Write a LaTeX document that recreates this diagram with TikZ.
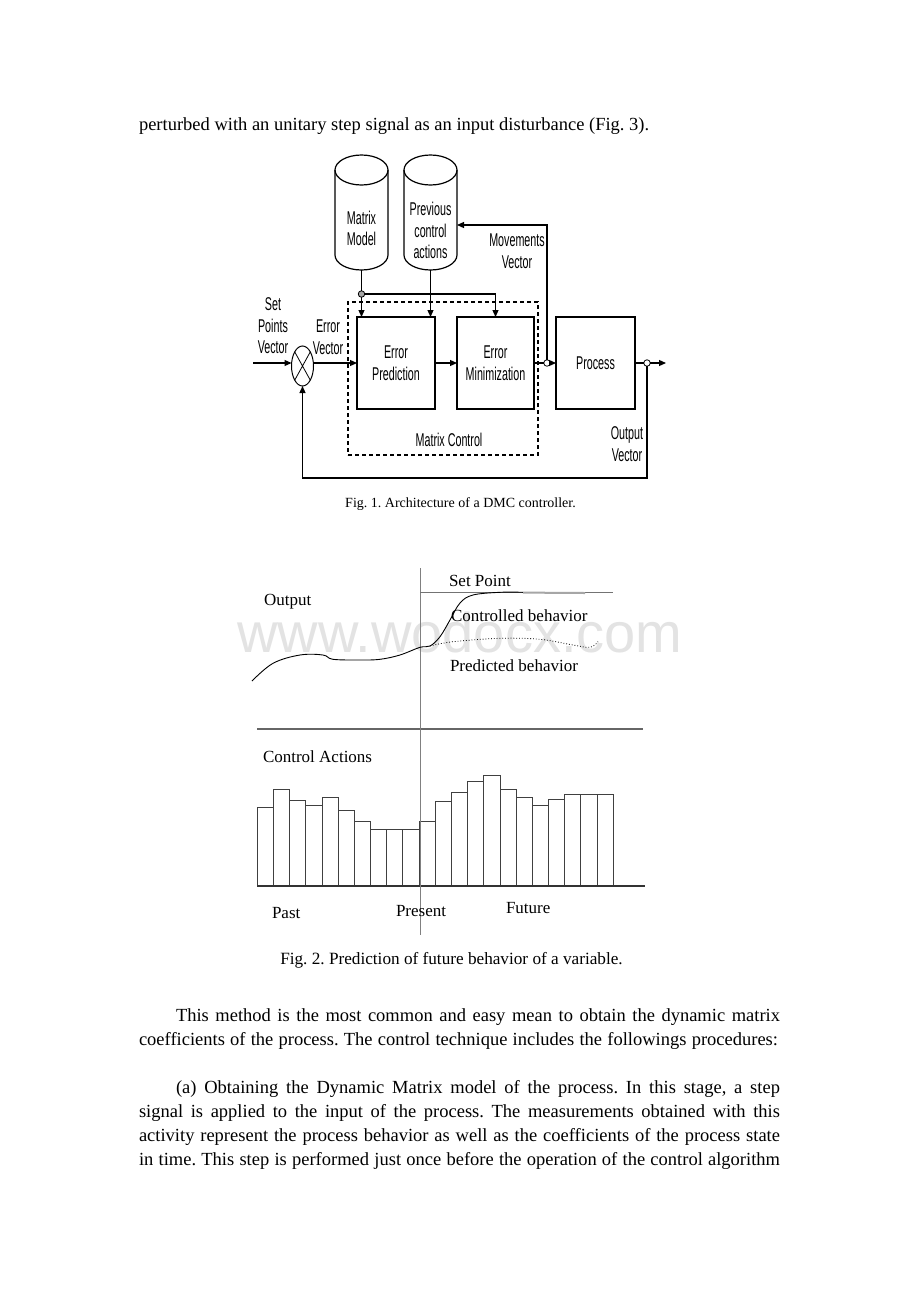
\documentclass[tikz,border=0pt]{standalone}
\usepackage{fontspec}
\setmainfont{Liberation Serif}
\newfontfamily\narrowsans[FakeStretch=0.58]{Liberation Sans}
\newfontfamily\wmsans{Liberation Sans}
\usetikzlibrary{arrows.meta,shapes.geometric}
\begin{document}
\begin{tikzpicture}[x=1pt,y=-1pt,
  every node/.style={inner sep=0pt, outer sep=0pt},
  blk/.style={draw, line width=1.2pt, minimum height=92pt},
  lab/.style={font=\narrowsans\fontsize{18.5}{21.5}\selectfont, align=center},
  wire/.style={line width=1.2pt},
  arr/.style={wire, -{Triangle[length=7pt,width=6pt]}},
  junc/.style={circle, draw, line width=0.8pt, minimum size=6.5pt},
  figlab/.style={font=\fontsize{17}{20}\selectfont, anchor=base west},
  body/.style={font=\fontsize{18.5}{24}\selectfont\frenchspacing, anchor=base west},
  bar/.style={draw=black!75, line width=1pt},
]
\useasboundingbox (0,0) rectangle (920,1302);
\fill[white] (0,0) rectangle (920,1302);

% ---------- body text ----------
\node[body] (t0) at (139,130) {perturbed with an unitary step signal as an input disturbance (Fig. 3).};
\node[body] (p1) at (176,1021) {\makebox[604pt][s]{This method is the most common and easy mean to obtain the dynamic matrix}};
\node[body] (p2) at (139,1045) {\makebox[639pt][s]{coefficients of the process. The control technique includes the followings procedures:}};
\node[body] (p3) at (176,1093) {\makebox[604pt][s]{(a) Obtaining the Dynamic Matrix model of the process. In this stage, a step}};
\node[body] (p4) at (139,1117) {\makebox[641pt][s]{signal is applied to the input of the process. The measurements obtained with this}};
\node[body] (p5) at (139,1141) {\makebox[641pt][s]{activity represent the process behavior as well as the coefficients of the process state}};
\node[body] (p6) at (139,1165) {\makebox[641pt][s]{in time. This step is performed just once before the operation of the control algorithm}};

% ---------- Fig. 1 ----------
\node[blk, lab, minimum width=78pt] (ep) at (396,363) {Error\\Prediction};
\node[blk, lab, minimum width=77pt] (em) at (495.5,363) {Error\\Minimization};
\node[blk, lab, minimum width=79pt] (pr) at (595.5,363) {Process};
\node[draw, line width=1.2pt, dash pattern=on 4pt off 3pt, minimum width=190pt, minimum height=153pt] (mc) at (443,378.5) {};
\node[lab] (mcl) at (449,440) {Matrix Control};

\node[ellipse, draw, line width=1pt, minimum width=22pt, minimum height=40pt] (sum) at (302.5,366) {};
\draw[line width=0.8pt] (sum.north west) -- (sum.south east) (sum.north east) -- (sum.south west);

% cylinders
\node[minimum width=53pt, minimum height=115pt] (mm) at (361.5,212.5) {};
\node[minimum width=53pt, minimum height=115pt] (pca) at (430.5,212.5) {};
\foreach \c in {mm,pca}{
  \draw[wire, fill=white] ([yshift=-15pt]\c.north west) -- ([yshift=15pt]\c.south west)
     arc[start angle=180, end angle=360, x radius=26.5pt, y radius=15pt]
     -- ([yshift=-15pt]\c.north east);
  \draw[wire] ([yshift=-15pt]\c.north) ellipse[x radius=26.5pt, y radius=15pt];
}
\node[lab] (mml) at (361.5,228.5) {Matrix\\Model};
\node[lab] (pcal) at (430.5,230.5) {Previous\\control\\actions};

% junctions
\node[junc, fill=gray!70] (j1) at (361.5,294) {};
\node[junc, fill=white] (j2) at (547,363) {};
\node[junc, fill=white] (j3) at (647,363) {};
\coordinate (in) at (253,363);
\coordinate (out) at (666,363);
\coordinate (fbR) at (647,478);
\coordinate (mvc) at (547,225);

% connectors
\draw[arr] (in) -- (sum.west |- in);
\draw[arr] (sum.east |- in) -- (ep.west);
\draw[arr] (ep.east) -- (em.west);
\draw[wire] (em.east) -- (j2);
\draw[arr] (j2) -- (pr.west);
\draw[wire] (pr.east) -- (j3);
\draw[arr] (j3) -- (out);
\draw[arr] (j3) -- (fbR) -| (sum.south);
\draw[arr] (j2) -- (mvc) -- (mvc -| pca.east);
\draw[wire] (mm.south) -- (j1);
\draw[arr] (j1) -- (j1 |- ep.north);
\draw[arr] (j1) -| (em.north);
\draw[arr] (pca.south) -- (pca.south |- ep.north);

% labels
\node[lab] (spv) at (273,326) {Set\\Points\\Vector};
\node[lab] (evl) at (328,337) {Error\\Vector};
\node[lab] (mvl) at (517,251) {Movements\\Vector};
\node[lab] (ovl) at (627,444) {Output\\Vector};

\node[font=\fontsize{14}{16}\selectfont\frenchspacing, anchor=base] (cap1) at (460.5,507) {Fig. 1. Architecture of a DMC controller.};

% ---------- Fig. 2 ----------
\node[font=\wmsans\fontsize{56}{60}\selectfont, text=gray!22, anchor=base] (wm) at (460,652) {www.wodocx.com};

\coordinate (vt) at (420,568);
\coordinate (vb) at (420,935);
\coordinate (spa) at (420,592);
\coordinate (spb) at (613,592);
\coordinate (sepa) at (257,729);
\coordinate (sepb) at (643,729);
\coordinate (bla) at (257,886);
\coordinate (blb) at (645,886);

\foreach \h [count=\i] in {807,789,800,805,797,810,821,829,829,829,821,801,792,781,775,789,797,805,799,794,794,794}{
  \draw[bar] ({257.3+(\i-1)*16.18},886) rectangle ({257.3+\i*16.18},\h);
}
\draw[black!80, line width=1.2pt] (bla) -- (blb);
\draw[black!60, line width=1.2pt] (sepa) -- (sepb);
\draw[gray, line width=1pt] (vt) -- (vb);
\draw[gray!90!black, line width=1pt] (spa) -- (spb);

\draw[line width=0.9pt] plot[smooth, tension=0.6] coordinates {(252,681) (273,663.3) (300,655) (323,655) (333,659.3) (360,660) (380,659.3) (400,655) (420,647.3) (430,646) (440,636.7) (450,620) (460,603) (473,595) (500,592.3) (523,592.3)};
\draw[gray!70, line width=2pt] (523,592.6) -- (585,593);
\draw[dotted, line width=0.8pt] plot[smooth, tension=0.6] coordinates {(430,646) (453,641.7) (500,638.3) (540,639.3) (573,645) (590,647.3) (598,641.7)};

\node[figlab] (sp) at (449,586) {Set Point};
\node[figlab] (outl) at (264,605) {Output};
\node[figlab] (cb) at (451,621) {Controlled behavior};
\node[figlab] (pb) at (450,671) {Predicted behavior};
\node[figlab] (ca) at (263,762) {Control Actions};
\node[figlab] (past) at (272,918) {Past};
\node[figlab] (pres) at (396,916) {Present};
\node[figlab] (fut) at (506,913) {Future};

\node[font=\fontsize{17.2}{20}\selectfont\frenchspacing, anchor=base] (cap2) at (451.5,964) {Fig. 2. Prediction of future behavior of a variable.};
\end{tikzpicture}
\end{document}
